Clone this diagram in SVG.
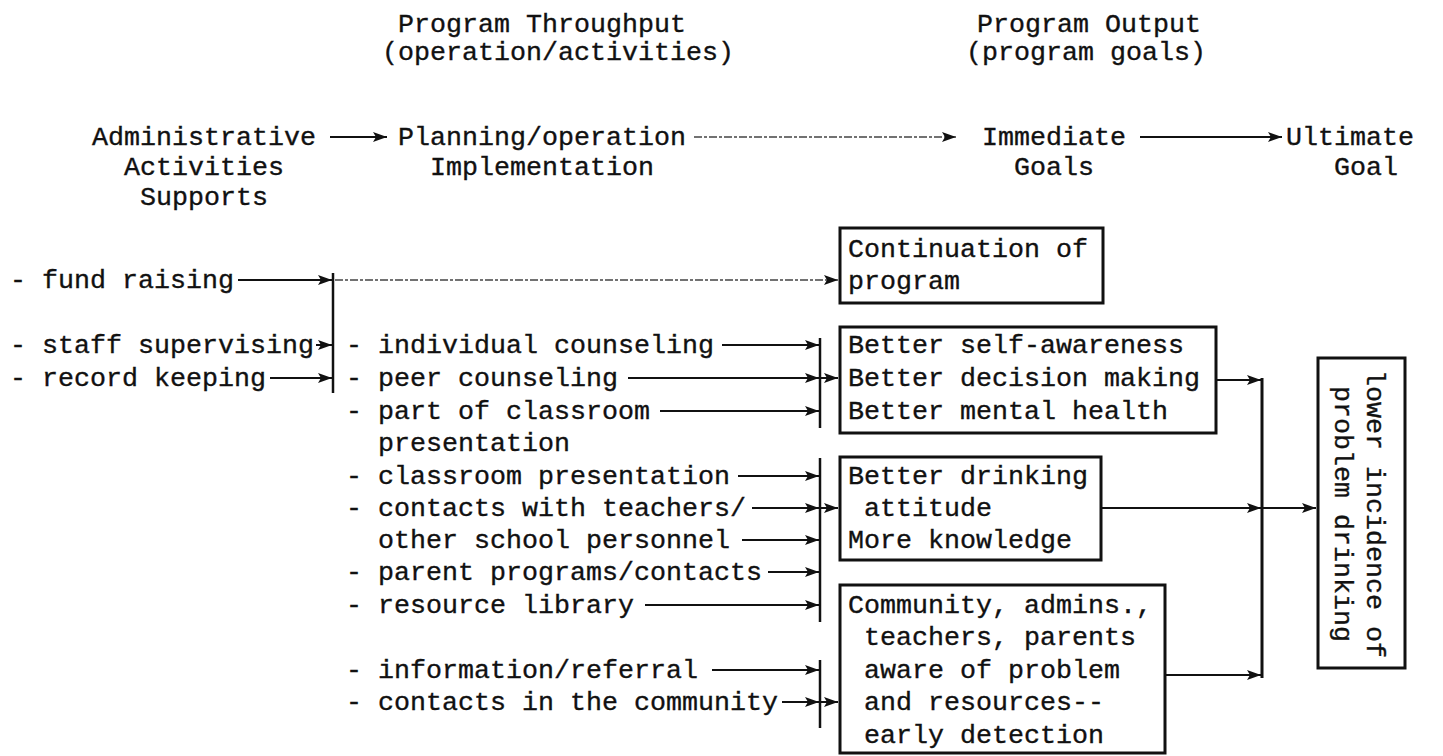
<svg xmlns="http://www.w3.org/2000/svg" width="1443" height="756" viewBox="0 0 1443 756">
<defs>
<marker id="ah" markerWidth="14" markerHeight="10" refX="14" refY="5" orient="auto" markerUnits="userSpaceOnUse"><path d="M0,0 L14,5 L0,10 L3,5 z" fill="#111"/></marker>
</defs>
<style>
text{font-family:"Liberation Mono","Courier New",monospace;font-size:26.67px;fill:#111;stroke:#111;stroke-width:0.35}
.a{stroke:#111;stroke-width:2;fill:none;marker-end:url(#ah)}
.m{stroke:#111;stroke-width:2;fill:none;marker-mid:url(#ah);marker-end:url(#ah)}
.d{stroke:#444;stroke-width:1.4;fill:none;stroke-dasharray:8 2 3 2;marker-end:url(#ah)}
.bar{stroke:#111;stroke-width:2.5}
.box{fill:none;stroke:#111;stroke-width:3}
.ln{stroke:#111;stroke-width:3;fill:none}
</style>
<rect width="1443" height="756" fill="#fff"/>
<g id="header-throughput">
<text x="398" y="32">Program Throughput</text>
<text x="382" y="60">(operation/activities)</text>
</g>
<g id="header-output">
<text x="977" y="32">Program Output</text>
<text x="966" y="60">(program goals)</text>
</g>
<g id="n-admin">
<text x="92" y="145">Administrative</text>
<text x="124" y="175">Activities</text>
<text x="140" y="205">Supports</text>
</g>
<g id="n-planning">
<text x="398" y="145">Planning/operation</text>
<text x="430" y="175">Implementation</text>
</g>
<g id="n-immediate">
<text x="982" y="145">Immediate</text>
<text x="1014" y="175">Goals</text>
</g>
<g id="n-ultimate">
<text x="1286" y="145">Ultimate</text>
<text x="1334" y="175">Goal</text>
</g>
<g id="n-admin-list">
<text x="10" y="288">- fund raising</text>
<text x="10" y="353">- staff supervising</text>
<text x="10" y="386">- record keeping</text>
</g>
<g id="n-program-list">
<text x="346" y="353">- individual counseling</text>
<text x="346" y="386">- peer counseling</text>
<text x="346" y="419">- part of classroom</text>
<text x="378" y="451">presentation</text>
<text x="346" y="484">- classroom presentation</text>
<text x="346" y="516">- contacts with teachers/</text>
<text x="378" y="548">other school personnel</text>
<text x="346" y="580">- parent programs/contacts</text>
<text x="346" y="613">- resource library</text>
<text x="346" y="678">- information/referral</text>
<text x="346" y="710">- contacts in the community</text>
</g>
<g id="n-continuation">
<rect class="box" x="840" y="228" width="263" height="75"/>
<text x="848" y="257">Continuation of</text>
<text x="848" y="289">program</text>
</g>
<g id="n-awareness">
<rect class="box" x="840" y="327" width="376" height="106"/>
<text x="848" y="353">Better self-awareness</text>
<text x="848" y="386">Better decision making</text>
<text x="848" y="419">Better mental health</text>
</g>
<g id="n-attitude">
<rect class="box" x="840" y="457" width="261" height="103"/>
<text x="848" y="484">Better drinking</text>
<text x="864" y="516">attitude</text>
<text x="848" y="548">More knowledge</text>
</g>
<g id="n-community">
<rect class="box" x="840" y="585" width="325" height="168"/>
<text x="848" y="613">Community, admins.,</text>
<text x="864" y="645">teachers, parents</text>
<text x="864" y="678">aware of problem</text>
<text x="864" y="710">and resources--</text>
<text x="864" y="743">early detection</text>
</g>
<g id="n-ultimate-goal">
<rect class="box" x="1318" y="358" width="87" height="310"/>
<text x="1367" y="370" transform="rotate(90 1367 370)">lower incidence of</text>
<text x="1335" y="386" transform="rotate(90 1335 386)">problem drinking</text>
</g>
<g id="connectors">
<line class="a" x1="330" y1="137" x2="387" y2="137"/>
<line class="d" x1="694" y1="137" x2="956" y2="137"/>
<line class="a" x1="1140" y1="137" x2="1282" y2="137"/>
<line class="bar" x1="333" y1="273" x2="333" y2="393"/>
<line class="a" x1="238" y1="280" x2="332" y2="280"/>
<line class="a" x1="316" y1="345" x2="332" y2="345"/>
<line class="a" x1="270" y1="378" x2="332" y2="378"/>
<line class="d" x1="335" y1="280" x2="838" y2="280"/>
<line class="bar" x1="820" y1="338" x2="820" y2="428"/>
<line class="bar" x1="820" y1="458" x2="820" y2="622"/>
<line class="bar" x1="820" y1="660" x2="820" y2="728"/>
<line class="a" x1="722" y1="345" x2="819" y2="345"/>
<polyline class="m" points="628,378 819,378 838,378"/>
<line class="a" x1="660" y1="411" x2="819" y2="411"/>
<line class="a" x1="738" y1="476" x2="819" y2="476"/>
<polyline class="m" points="752,508 819,508 838,508"/>
<line class="a" x1="742" y1="540" x2="819" y2="540"/>
<line class="a" x1="768" y1="572" x2="819" y2="572"/>
<line class="a" x1="645" y1="605" x2="819" y2="605"/>
<line class="a" x1="712" y1="670" x2="819" y2="670"/>
<polyline class="m" points="782,702 819,702 838,702"/>
<line class="a" x1="1216" y1="380" x2="1261" y2="380"/>
<line class="ln" x1="1262" y1="378" x2="1262" y2="678"/>
<polyline class="m" points="1101,508 1261,508 1316,508"/>
<line class="a" x1="1165" y1="675" x2="1261" y2="675"/>
</g>
</svg>
